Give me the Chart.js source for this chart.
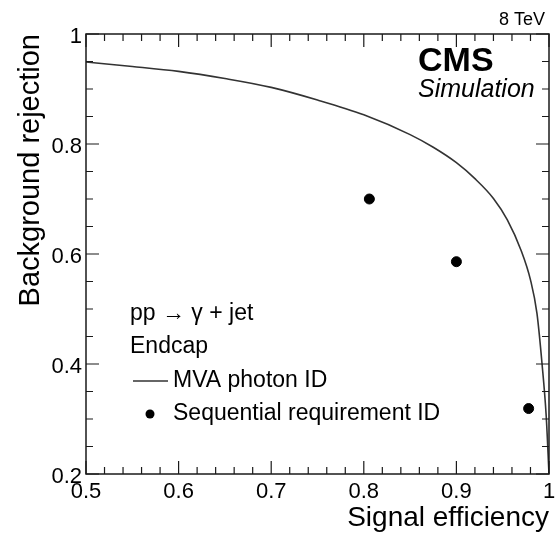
<!DOCTYPE html>
<html>
<head>
<meta charset="utf-8">
<script src="https://cdn.jsdelivr.net/npm/chart.js@4/dist/chart.umd.min.js"></script>
<style>
  html, body { margin: 0; padding: 0; background: #fff; }
  #wrap { width: 555px; height: 534px; position: relative; }
</style>
</head>
<body>
<div id="wrap"><canvas id="rocChart"></canvas></div>
<script>
// MVA photon ID curve (signal efficiency vs background rejection)
const mvaEff = [0.5, 0.55, 0.6, 0.65, 0.7, 0.75, 0.8, 0.85, 0.875, 0.9, 0.92, 0.94, 0.955, 0.97, 0.98, 0.987, 0.9925, 0.997, 1.0];
const mvaRej = [0.949, 0.941, 0.932, 0.919, 0.903, 0.880, 0.853, 0.817, 0.794, 0.766, 0.737, 0.701, 0.662, 0.606, 0.553, 0.492, 0.400, 0.305, 0.200];

// Sequential requirement ID working points
const seqEff = [0.806, 0.900, 0.978];
const seqRej = [0.700, 0.586, 0.319];

const xTickLabels = ["0.5", "0.6", "0.7", "0.8", "0.9", "1"];
const yTickLabels = ["0.2", "0.4", "0.6", "0.8", "1"];

const FONT = "'Liberation Sans', Arial, Helvetica, sans-serif";

function toPoints(xs, ys) {
  return xs.map((x, i) => ({ x: x, y: ys[i] }));
}

// frame, inward ticks, labels, titles and text boxes (ROOT style)
const rootStyle = {
  id: "rootStyle",
  afterDraw(chart) {
    const ctx = chart.ctx;
    const area = chart.chartArea;
    const xs = chart.scales.x;
    const ys = chart.scales.y;

    ctx.save();
    ctx.strokeStyle = "#1a1a1a";
    ctx.lineWidth = 1.5;
    ctx.strokeRect(area.left, area.top, area.right - area.left, area.bottom - area.top);

    // x ticks every 0.02, major every 0.1
    ctx.lineWidth = 1.2;
    for (let i = 0; i <= 25; i++) {
      const v = 0.5 + i * 0.02;
      const px = xs.getPixelForValue(v);
      const len = i % 5 === 0 ? 13 : 7;
      ctx.beginPath();
      ctx.moveTo(px, area.bottom);
      ctx.lineTo(px, area.bottom - len);
      ctx.moveTo(px, area.top);
      ctx.lineTo(px, area.top + len);
      ctx.stroke();
    }
    // y ticks every 0.05, major every 0.2
    for (let i = 0; i <= 16; i++) {
      const v = 0.2 + i * 0.05;
      const py = ys.getPixelForValue(v);
      const len = i % 4 === 0 ? 13 : 7;
      ctx.beginPath();
      ctx.moveTo(area.left, py);
      ctx.lineTo(area.left + len, py);
      ctx.moveTo(area.right, py);
      ctx.lineTo(area.right - len, py);
      ctx.stroke();
    }

    ctx.fillStyle = "#000";
    ctx.font = "22px " + FONT;
    ctx.textAlign = "center";
    ctx.textBaseline = "middle";
    xTickLabels.forEach((t) => {
      ctx.fillText(t, xs.getPixelForValue(parseFloat(t)), area.bottom + 18);
    });
    ctx.textAlign = "right";
    yTickLabels.forEach((t) => {
      ctx.fillText(t, area.left - 4, ys.getPixelForValue(parseFloat(t)) + 3);
    });

    // axis titles
    ctx.font = "28px " + FONT;
    ctx.textAlign = "right";
    ctx.textBaseline = "alphabetic";
    ctx.fillText("Signal efficiency", area.right, 526);
    ctx.save();
    ctx.font = "29px " + FONT;
    ctx.translate(39, area.top);
    ctx.rotate(-Math.PI / 2);
    ctx.fillText("Background rejection", 0, 0);
    ctx.restore();

    // header texts
    ctx.textAlign = "right";
    ctx.font = "18px " + FONT;
    ctx.fillText("8 TeV", 545, 25);
    ctx.textAlign = "left";
    ctx.font = "bold 34px " + FONT;
    ctx.fillText("CMS", 418, 71);
    ctx.font = "italic 25px " + FONT;
    ctx.fillText("Simulation", 418, 97);

    // legend
    ctx.font = "23px " + FONT;
    ctx.textBaseline = "middle";
    ctx.fillText("pp \u2192 \u03b3 + jet", 130, 314);
    ctx.fillText("Endcap", 130, 347);
    ctx.fillText("MVA photon ID", 173, 381);
    ctx.fillText("Sequential requirement ID", 173, 414);
    ctx.strokeStyle = "#333";
    ctx.lineWidth = 1.5;
    ctx.beginPath();
    ctx.moveTo(133, 381);
    ctx.lineTo(168, 381);
    ctx.stroke();
    ctx.beginPath();
    ctx.arc(150, 414, 4.5, 0, Math.PI * 2);
    ctx.fill();
    ctx.restore();
  },
};

function initializeChart() {
  const ctx = document.getElementById("rocChart").getContext("2d");
  return new Chart(ctx, {
    type: "scatter",
    data: {
      datasets: [
        {
          label: "MVA photon ID",
          type: "line",
          data: toPoints(mvaEff, mvaRej),
          borderColor: "#333",
          borderWidth: 1.6,
          pointRadius: 0,
          fill: false,
          cubicInterpolationMode: "monotone",
        },
        {
          label: "Sequential requirement ID",
          data: toPoints(seqEff, seqRej),
          backgroundColor: "#000",
          borderColor: "#000",
          pointRadius: 5,
          pointHoverRadius: 5,
        },
      ],
    },
    options: {
      responsive: true,
      maintainAspectRatio: false,
      animation: false,
      events: [],
      layout: { padding: { left: 86, right: 3, top: 34, bottom: 60 } },
      plugins: {
        legend: { display: false },
        tooltip: { enabled: false },
      },
      scales: {
        x: { type: "linear", min: 0.5, max: 1, display: false },
        y: { type: "linear", min: 0.2, max: 1, display: false },
      },
    },
    plugins: [rootStyle],
  });
}

document.addEventListener("DOMContentLoaded", () => {
  initializeChart();
});
</script>
</body>
</html>
